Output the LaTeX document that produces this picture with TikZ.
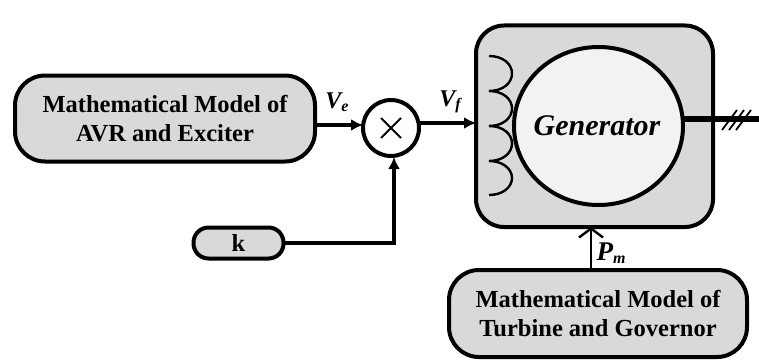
\documentclass[tikz,border=0pt]{standalone}
\usepackage{fontspec}
\setmainfont{Liberation Serif}
\usetikzlibrary{arrows.meta,shapes.geometric}
\definecolor{boxgray}{gray}{0.85}
\definecolor{gencolor}{gray}{0.95}
\tikzset{
 blockbox/.style={draw=black,line width=4pt,fill=boxgray,rounded corners=#1,inner sep=0pt,outer sep=0pt},
 conn/.style={line width=3.2pt,-{Latex[length=12pt,width=12pt]}},
 lab/.style={font=\bfseries\fontsize{24.5}{29.5}\selectfont,align=center,text=black}
}
\begin{document}
\begin{tikzpicture}[x=1pt,y=-1pt,line cap=butt]
\useasboundingbox (0,0) rectangle (759,361);
\node[blockbox=28pt,minimum width=237pt,minimum height=201.5pt] (gen) at (594.5,126.25) {};
\node[draw,line width=4pt,fill=gencolor,ellipse,minimum width=169pt,minimum height=158pt,inner sep=0pt,outer sep=0pt] (rotor) at (598.5,126) {};
\node[font=\bfseries\itshape\fontsize{30}{36}\selectfont] (gtxt) at (597,126) {Generator};
\draw[line width=2.4pt] (489,56) .. controls (503,56) and (512,64) .. (512,73.5) .. controls (512,83) and (503,91) .. (489,91)
 .. controls (503,91) and (512,99) .. (512,108.5) .. controls (512,118) and (503,126) .. (489,126)
 .. controls (503,126) and (512,134) .. (512,143.5) .. controls (512,153) and (503,161) .. (489,161)
 .. controls (503,161) and (512,169) .. (512,178) .. controls (512,187) and (503,195) .. (489,195);
\node[blockbox=30pt,minimum width=300pt,minimum height=86pt,lab] (avr) at (165,118.5) {Mathematical Model of\\AVR and Exciter};
\node[blockbox=30pt,minimum width=298pt,minimum height=87pt,lab] (tur) at (598,313.5) {Mathematical Model of\\Turbine and Governor};
\node[blockbox=15pt,minimum width=90pt,minimum height=31pt,lab] (k) at (238.5,243) {k};
\node[draw,line width=4pt,fill=white,circle,minimum size=56pt,inner sep=0pt,outer sep=0pt] (mul) at (391,128) {};
\draw[line width=1.8pt] (381,118) -- (401,138) (381,138) -- (401,118);
\coordinate (veS) at (avr.east |- 0,125);
\coordinate (veE) at (mul.west |- 0,125);
\draw[conn] (veS) -- (veE);
\coordinate (vfS) at (420,123);
\coordinate (vfE) at (gen.west |- vfS);
\draw[conn] (vfS) -- (vfE);
\coordinate (kup) at (394,243);
\coordinate (kend) at (394,157);
\draw[conn] (k.east) -- (kup) -- (kend);
\coordinate (pmx) at (591,0);
\draw[line width=2.6pt,-{Straight Barb[length=9pt,width=24pt,line width=2.4pt]}] (pmx |- tur.north) -- (pmx |- gen.south);
\coordinate (out) at (759,119);
\draw[line width=6pt] (rotor.east |- out) -- (out);
\draw[line width=1.8pt] (722,130) -- (737,110) (729,130) -- (744,110) (736,130) -- (751,110);
\node[font=\bfseries\itshape\fontsize{24}{28}\selectfont] at (337,102) {V\raisebox{-3pt}{\fontsize{16}{18}\selectfont e}};
\node[font=\bfseries\itshape\fontsize{24}{28}\selectfont] at (450,102) {V\raisebox{-3pt}{\fontsize{16}{18}\selectfont f}};
\node[font=\bfseries\itshape\fontsize{27}{30}\selectfont] at (611,253) {P\raisebox{-3pt}{\fontsize{16}{18}\selectfont m}};
\end{tikzpicture}
\end{document}
